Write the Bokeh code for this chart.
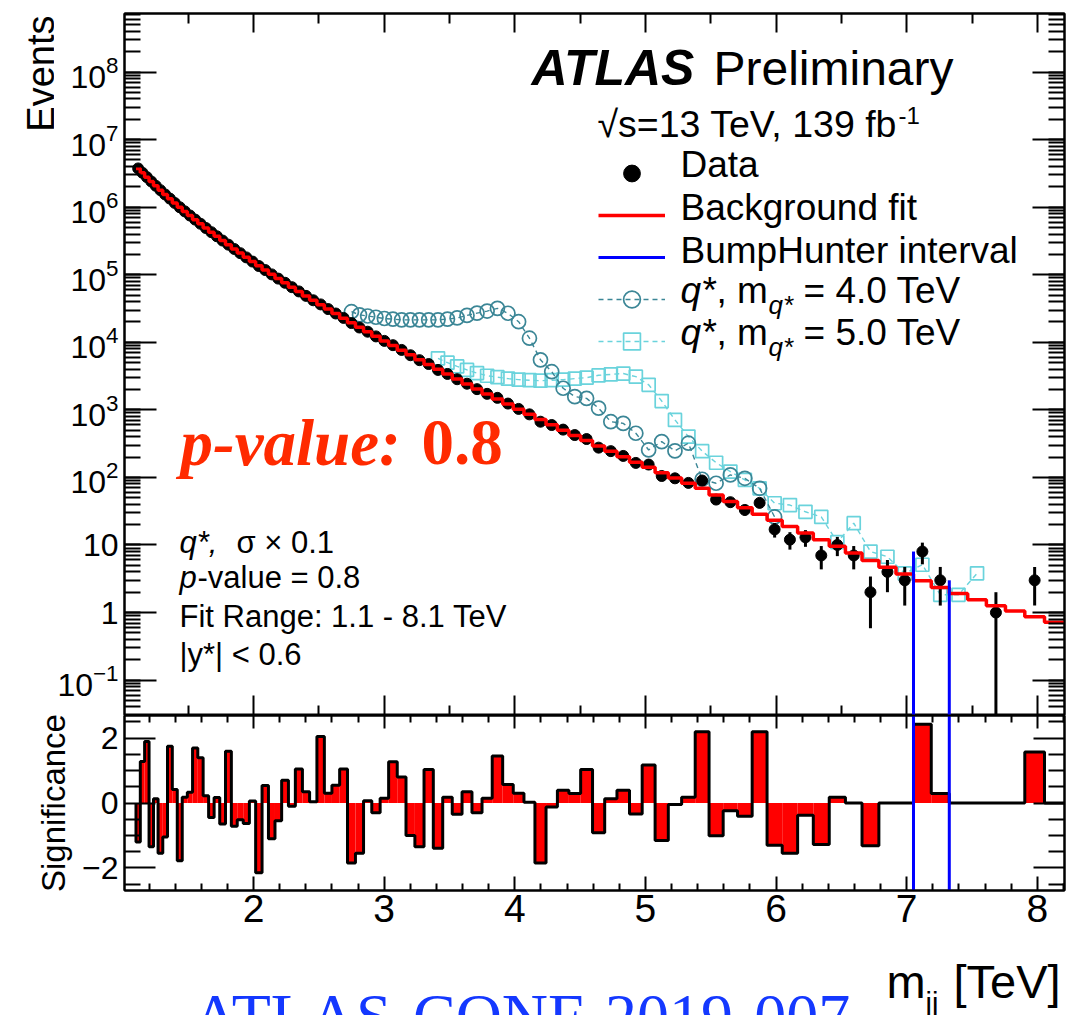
import math
from bokeh.plotting import figure
from bokeh.models import (Range1d, LinearAxis, LogAxis, FixedTicker, LogTicker,
                          LogTickFormatter, Label, Legend, LegendItem,
                          CustomJSTickFormatter)
from bokeh.layouts import column, row
from bokeh.embed import file_html
from bokeh.resources import INLINE

# ---------------- data ----------------
bin_edges_gev = [1100, 1133, 1166, 1200, 1234, 1269, 1305, 1341, 1378, 1416,
                 1454, 1493, 1533, 1573, 1614, 1656, 1698, 1741, 1785, 1830,
                 1875, 1921, 1968, 2016, 2065, 2114, 2164, 2215, 2267, 2320,
                 2374, 2429, 2485, 2542, 2600, 2659, 2719, 2780, 2842, 2905,
                 2969, 3034, 3100, 3167, 3235, 3305, 3376, 3448, 3521, 3596,
                 3672, 3749, 3827, 3907, 3988, 4070, 4154, 4239, 4326, 4414,
                 4504, 4595, 4688, 4782, 4878, 4975, 5074, 5175, 5277, 5381,
                 5487, 5595, 5705, 5817, 5931, 6047, 6165, 6285, 6407, 6531,
                 6658, 6787, 6918, 7052, 7188, 7326, 7467, 7610, 7756, 7904,
                 8055, 8208]

data_events = [3747676, 3230300, 2789171, 2401907, 2075187, 1785928, 1543695, 1339023, 1155451, 998220,
               867168, 753286, 655375, 569055, 492154, 426706, 371104, 320632, 278843, 240646,
               208762, 180732, 156724, 134709, 117385, 101249, 87637, 76093, 65474, 56649,
               48677, 41908, 36389, 31053, 26690, 22959, 19281, 16550, 14348, 12227,
               10495, 9070, 7710, 6439, 5440, 4771, 3902, 3400, 2841, 2437,
               2026, 1726, 1505, 1239, 1033, 858, 668, 597, 510, 424,
               370, 276, 245, 208, 164, 155, 105, 97, 83, 90,
               47, 43, 33, 42, 17, 12, 13, 7, 10, 7,
               2, 4, 3, 8, 3, 0, 0, 1, 0, 3, 0]

fit_events = [3750000, 3228000, 2786000, 2404000, 2075000, 1788000, 1545000, 1337000, 1155000, 1000000,
              867000, 753000, 654000, 568000, 492000, 427000, 371000, 321000, 278000, 241000,
              209000, 181000, 156700, 135500, 117200, 101600, 87800, 75900, 65500, 56400,
              48600, 41900, 36000, 31000, 26600, 22800, 19540, 16750, 14340, 12260,
              10480, 8950, 7640, 6520, 5540, 4700, 3990, 3390, 2860, 2420,
              2040, 1720, 1450, 1219, 1023, 858, 718, 600, 501, 418,
              351, 292, 243, 202, 168, 141, 117.5, 97.7, 82.0, 69.0,
              55.0, 44.2, 35.5, 28.5, 23.2, 18.8, 15.1, 12.0, 9.55, 7.59,
              5.89, 4.68, 3.72, 2.95, 2.34, 1.91, 1.55, 1.26, 1.05, 0.87, 0.72]

significance = [-1.2, 1.28, 1.9, -1.35, 0.13, -1.55, -1.05, 1.75, 0.42, -1.78,
                0.18, 0.33, 1.7, 1.4, 0.22, -0.45, 0.17, -0.65, 1.6, -0.72,
                -0.52, -0.63, 0.06, -2.15, 0.54, -1.1, -0.55, 0.7, -0.1, 1.05,
                0.35, 0.04, 2.05, 0.3, 0.55, 1.05, -1.85, -1.55, 0.07, -0.3,
                0.15, 1.27, 0.8, -1.0, -1.35, 1.03, -1.4, 0.18, -0.35, 0.35,
                -0.3, 0.15, 1.45, 0.57, 0.3, 0.02, -1.85, -0.12, 0.39, 0.29,
                1.03, -0.92, 0.13, 0.39, -0.34, 1.17, -1.16, -0.05, 0.18, 2.2,
                -1.01, -0.24, -0.41, 2.2, -1.3, -1.55, -0.38, -1.28, 0.18, 0.0,
                -1.32, 0.0, 0.0, 2.43, 0.29, 0.0, 0.0, 0.0, 0.0, 1.57, 0.0]

qstar4_first_bin = 36
qstar4_events = [28400, 25500, 24500, 23500, 22500, 22000, 21500, 21500, 21500, 21500,
                 21500, 22000, 23000, 25000, 27000, 29000, 31800, 26900, 20200, 11500,
                 5500, 3670, 2090, 1570, 1480, 1060, 668, 631, 451, 255,
                 339, 247, 321, 94, 82, 109, 97, 69, 26]

qstar5_first_bin = 46
qstar5_events = [5800, 5000, 4400, 3900, 3500, 3200, 3050, 2900, 2800, 2750,
                 2700, 2750, 2800, 2900, 3000, 3250, 3350, 3450, 3100, 2350,
                 1350, 710, 402, 245, 165, 122, 92, 69, 41.5, 39,
                 31, 26, 11, 21, 8, 6.7, 3.8, 5.1, 1.83, 1.83, 3.8]

bumphunter_edges = [83, 85]          # edge indices of the BumpHunter interval
x_major_ticks = [2, 3, 4, 5, 6, 7, 8]
x_tick_labels = ["2", "3", "4", "5", "6", "7", "8"]
sig_major_ticks = [-2, 0, 2]
sig_tick_labels = ["\u22122", "0", "2"]
legend_labels = ["Data", "Background fit", "BumpHunter interval"]

# ---------------- layout geometry ----------------
W = 1083
H = 1015
LB, RB, TB = 124, 19, 13
WE = 54                    # strip holding the "Events" title
FW = W - LB - RB           # 940
FH1, FH2 = 702, 175
B2 = 55                    # tick-label strip under the significance panel
H1 = TB + FH1
H3 = H - H1 - (FH2 + B2)
XR = (1.012, 8.208)
Y1 = (10 ** -1.524, 10 ** 8.867)
Y2 = (-2.7, 2.7)
BASE_SHIFT = 0.35          # label anchor correction (fraction of font size)

def tx(px):
    return XR[0] + (px - LB) * (XR[1] - XR[0]) / FW

def ty1(py):
    lt, lb = math.log10(Y1[1]), math.log10(Y1[0])
    return 10 ** (lt - (py - TB) * (lt - lb) / FH1)

SANS = "Liberation Sans"
SERIF = "Liberation Serif"
RED = "#ff0000"
BLUE = "#0000ff"
C4 = "#3b8696"
C5 = "#6ad3dc"
PCOL = "#ff2a00"

edges = [e / 1000.0 for e in bin_edges_gev]
nb = len(data_events)
centers = [(edges[i] + edges[i + 1]) / 2 for i in range(nb)]

xr = Range1d(*XR)
blank = CustomJSTickFormatter(code="return ''")

def hide_labels(ax):
    ax.formatter = blank
    ax.major_label_text_font_size = "1px"
    ax.major_label_standoff = 0

def blank_fig(w, h, left, right, top, bottom):
    f = figure(width=w, height=h,
               x_range=Range1d(left, w - right), y_range=Range1d(bottom, h - top),
               x_axis_location=None, y_axis_location=None,
               output_backend="svg", toolbar_location=None,
               min_border_left=left, min_border_right=right,
               min_border_top=top, min_border_bottom=bottom)
    f.grid.visible = False
    f.outline_line_color = None
    f.background_fill_color = "white"
    f.border_fill_color = "white"
    return f

# ---------------- "Events" strip (frame aligned with the main panel) ----------------
pE = blank_fig(WE, H1, 0, 0, TB, 0)
pE.add_layout(Label(x=WE - BASE_SHIFT * 38, y=H1 - 15, text="Events", text_font=SANS,
                    text_font_size="38px", text_color="black", text_align="right",
                    text_baseline="alphabetic", angle=math.pi / 2))

# ---------------- main panel ----------------
p1 = figure(width=W - WE, height=H1, x_range=xr, y_range=Range1d(*Y1), y_axis_type="log",
            x_axis_location=None, output_backend="svg", toolbar_location=None,
            min_border_left=LB - WE, min_border_right=RB, min_border_top=TB, min_border_bottom=0)
p1.grid.visible = False
p1.outline_line_color = "black"
p1.outline_line_width = 2
p1.background_fill_color = "white"
p1.border_fill_color = "white"

def style_y(ax):
    ax.major_tick_in = 32
    ax.major_tick_out = 0
    ax.minor_tick_in = 16
    ax.minor_tick_out = 0
    ax.major_tick_line_width = 2
    ax.minor_tick_line_width = 2
    ax.axis_line_width = 2

ya = p1.yaxis[0]
ya.ticker = LogTicker(num_minor_ticks=10)
ya.formatter = LogTickFormatter()
ya.major_label_overrides = {1: "1", 10: "10"}
ya.major_label_text_font = SANS
ya.major_label_text_font_size = "32px"
ya.major_label_text_color = "black"
ya.major_label_standoff = 6
style_y(ya)

ra = LogAxis(ticker=LogTicker(num_minor_ticks=10))
style_y(ra)
hide_labels(ra)
p1.add_layout(ra, "right")

def x_axis(major_in, minor_in, minors, labels):
    ax = LinearAxis(ticker=FixedTicker(ticks=x_major_ticks, minor_ticks=minors))
    ax.major_tick_in = major_in
    ax.major_tick_out = 0
    ax.minor_tick_in = minor_in
    ax.minor_tick_out = 0
    ax.major_tick_line_width = 2
    ax.minor_tick_line_width = 2
    ax.axis_line_width = 2
    if labels:
        ax.major_label_overrides = {t: s for t, s in zip(x_major_ticks, x_tick_labels)}
        ax.major_label_text_font = SANS
        ax.major_label_text_font_size = "39px"
        ax.major_label_text_color = "black"
        ax.major_label_standoff = 4
    else:
        hide_labels(ax)
    return ax

half_minors = [1.5 + i for i in range(7)]
fifth_minors = []
for i in range(36):
    v = round(1.2 + 0.2 * i, 1)
    if abs(v - round(v)) > 1e-6:
        fifth_minors.append(v)
p1.add_layout(x_axis(19, 10, half_minors, False), "above")
p1.add_layout(x_axis(20, 10, half_minors, False), "below")

# signals
q4x = centers[qstar4_first_bin:qstar4_first_bin + len(qstar4_events)]
q5x = centers[qstar5_first_bin:qstar5_first_bin + len(qstar5_events)]
r_q5l = p1.line(q5x, qstar5_events, line_color=C5, line_dash="5 4", line_width=1.4)
r_q5m = p1.scatter(q5x, qstar5_events, marker="square", size=13, fill_color=None,
                   line_color=C5, line_width=1.7)
r_q4l = p1.line(q4x, qstar4_events, line_color=C4, line_dash="5 4", line_width=1.4)
r_q4m = p1.scatter(q4x, qstar4_events, marker="circle", size=14, fill_color=None,
                   line_color=C4, line_width=1.7)

# data with sqrt(N) error bars
dx, dy, lo, hi = [], [], [], []
for c, n in zip(centers, data_events):
    if n > 0:
        dx.append(c)
        dy.append(n)
        e = math.sqrt(n)
        lo.append(max(n - e, Y1[0] * 0.5))
        hi.append(n + e)
p1.segment(x0=dx, y0=lo, x1=dx, y1=hi, line_color="black", line_width=3)
r_data = p1.scatter(dx, dy, marker="circle", size=11, fill_color="black", line_color="black")

# background fit as step histogram
fx, fy = [], []
for i in range(nb):
    fx += [edges[i], edges[i + 1]]
    fy += [fit_events[i], fit_events[i]]
r_fit = p1.line(fx, fy, line_color=RED, line_width=3.5)

# BumpHunter interval
bh_x = [edges[k] for k in bumphunter_edges]
bh_top = [data_events[bumphunter_edges[0]], data_events[bumphunter_edges[1] - 1]]
r_bh = p1.segment(x0=bh_x, y0=[Y1[0], Y1[0]], x1=bh_x, y1=bh_top, line_color=BLUE, line_width=3)

def lab(px, py, text, size, font=SANS, style="normal", color="black"):
    p1.add_layout(Label(x=tx(px), y=ty1(py - BASE_SHIFT * size), text=text, text_font=font,
                        text_font_size=f"{size}px", text_font_style=style,
                        text_color=color, text_align="left", text_baseline="alphabetic"))

lab(531, 85, "ATLAS", 50, style="bold italic")
lab(713, 85, "Preliminary", 48)
lab(597, 137, "\u221as=13 TeV, 139 fb", 37.5)
lab(898, 123, "-1", 24)
for txt, base in zip(legend_labels, [177, 220, 263]):
    lab(680, base, txt, 37)
for base, sub_b, txt in [(303, 314, "= 4.0 TeV"), (345, 356, "= 5.0 TeV")]:
    lab(680, base, "q*", 37, style="italic")
    lab(716, base, ", m", 37)
    lab(768, sub_b, "q*", 26, style="italic")
    lab(803, base, txt, 37)

lab(180, 465, "p-value:", 65, font=SERIF, style="bold italic", color=PCOL)
lab(421, 465, "0.8", 65, font=SERIF, style="bold", color=PCOL)

lab(179, 553, "q*,", 31, style="italic")
lab(236, 553, "\u03c3 \u00d7 0.1", 31)
lab(179, 588, "p", 31, style="italic")
lab(197, 588, "-value = 0.8", 31)
lab(179, 627, "Fit Range: 1.1 - 8.1 TeV", 31)
lab(179, 665, "|y*| < 0.6", 31)

leg = Legend(items=[
    LegendItem(label=" ", renderers=[r_data]),
    LegendItem(label=" ", renderers=[r_fit]),
    LegendItem(label=" ", renderers=[r_bh]),
    LegendItem(label=" ", renderers=[r_q4l, r_q4m]),
    LegendItem(label=" ", renderers=[r_q5l, r_q5m]),
], location=(598 - LB, H1 - 152 - 5 * 42))
leg.glyph_width = 67
leg.glyph_height = 42
leg.label_height = 42
leg.spacing = 0
leg.padding = 0
leg.margin = 0
leg.label_standoff = 15
leg.label_text_font = SANS
leg.label_text_font_size = "37px"
leg.border_line_alpha = 0
leg.background_fill_alpha = 0
p1.add_layout(leg)

# ---------------- significance panel ----------------
p2 = figure(width=W, height=FH2 + B2, x_range=xr, y_range=Range1d(*Y2),
            x_axis_location=None, y_axis_location=None,
            output_backend="svg", toolbar_location=None,
            min_border_left=LB, min_border_right=RB, min_border_top=0, min_border_bottom=B2)
p2.grid.visible = False
p2.outline_line_color = "black"
p2.outline_line_width = 2
p2.background_fill_color = "white"
p2.border_fill_color = "white"

sig_minors = [-2.5, -1.5, -1.0, -0.5, 0.5, 1.0, 1.5, 2.5]
def sig_axis(labels):
    ax = LinearAxis(ticker=FixedTicker(ticks=sig_major_ticks, minor_ticks=sig_minors))
    ax.major_tick_in = 31
    ax.major_tick_out = 0
    ax.minor_tick_in = 16
    ax.minor_tick_out = 0
    ax.major_tick_line_width = 2
    ax.minor_tick_line_width = 2
    ax.axis_line_width = 2
    if labels:
        ax.major_label_overrides = {t: s for t, s in zip(sig_major_ticks, sig_tick_labels)}
        ax.major_label_text_font = SANS
        ax.major_label_text_font_size = "32px"
        ax.major_label_text_color = "black"
        ax.major_label_standoff = 6
        ax.axis_label = "Significance"
        ax.axis_label_text_font = SANS
        ax.axis_label_text_font_size = "33px"
        ax.axis_label_text_font_style = "normal"
        ax.axis_label_text_color = "black"
        ax.axis_label_standoff = 7
    else:
        hide_labels(ax)
    return ax

p2.add_layout(sig_axis(True), "left")
p2.add_layout(sig_axis(False), "right")
p2.add_layout(x_axis(13, 7, fifth_minors, False), "above")
p2.add_layout(x_axis(14, 7, fifth_minors, True), "below")

p2.quad(left=edges[:-1], right=edges[1:], bottom=[0] * nb, top=significance,
        fill_color=RED, line_color=None)
sx, sy = [edges[0]], [0.0]
for i in range(nb):
    sx += [edges[i], edges[i + 1]]
    sy += [significance[i], significance[i]]
sx.append(edges[-1]); sy.append(0.0)
p2.line(sx, sy, line_color="black", line_width=3)
p2.segment(x0=bh_x, y0=[Y2[0]] * 2, x1=bh_x, y1=[Y2[1]] * 2, line_color=BLUE, line_width=3)

# ---------------- bottom text strip (frame aligned with the panels above) ----------------
p3 = blank_fig(W, H3, LB, RB, 0, 0)

def lab3(px, py, text, size, font=SANS, color="black"):
    p3.add_layout(Label(x=px, y=H - (py - BASE_SHIFT * size), text=text, text_font=font,
                        text_font_size=f"{size}px", text_color=color,
                        text_align="left", text_baseline="alphabetic"))

lab3(886, 997, "m", 47)
lab3(925, 1013, "jj", 29)
lab3(953, 997, "[TeV]", 47)
lab3(192, 1038, "ATLAS-CONF-2019-007", 64, font=SERIF, color="#1438ff")

layout = column(row(pE, p1, spacing=0), p2, p3, spacing=0)
open("out.html", "w").write(file_html(layout, INLINE))
